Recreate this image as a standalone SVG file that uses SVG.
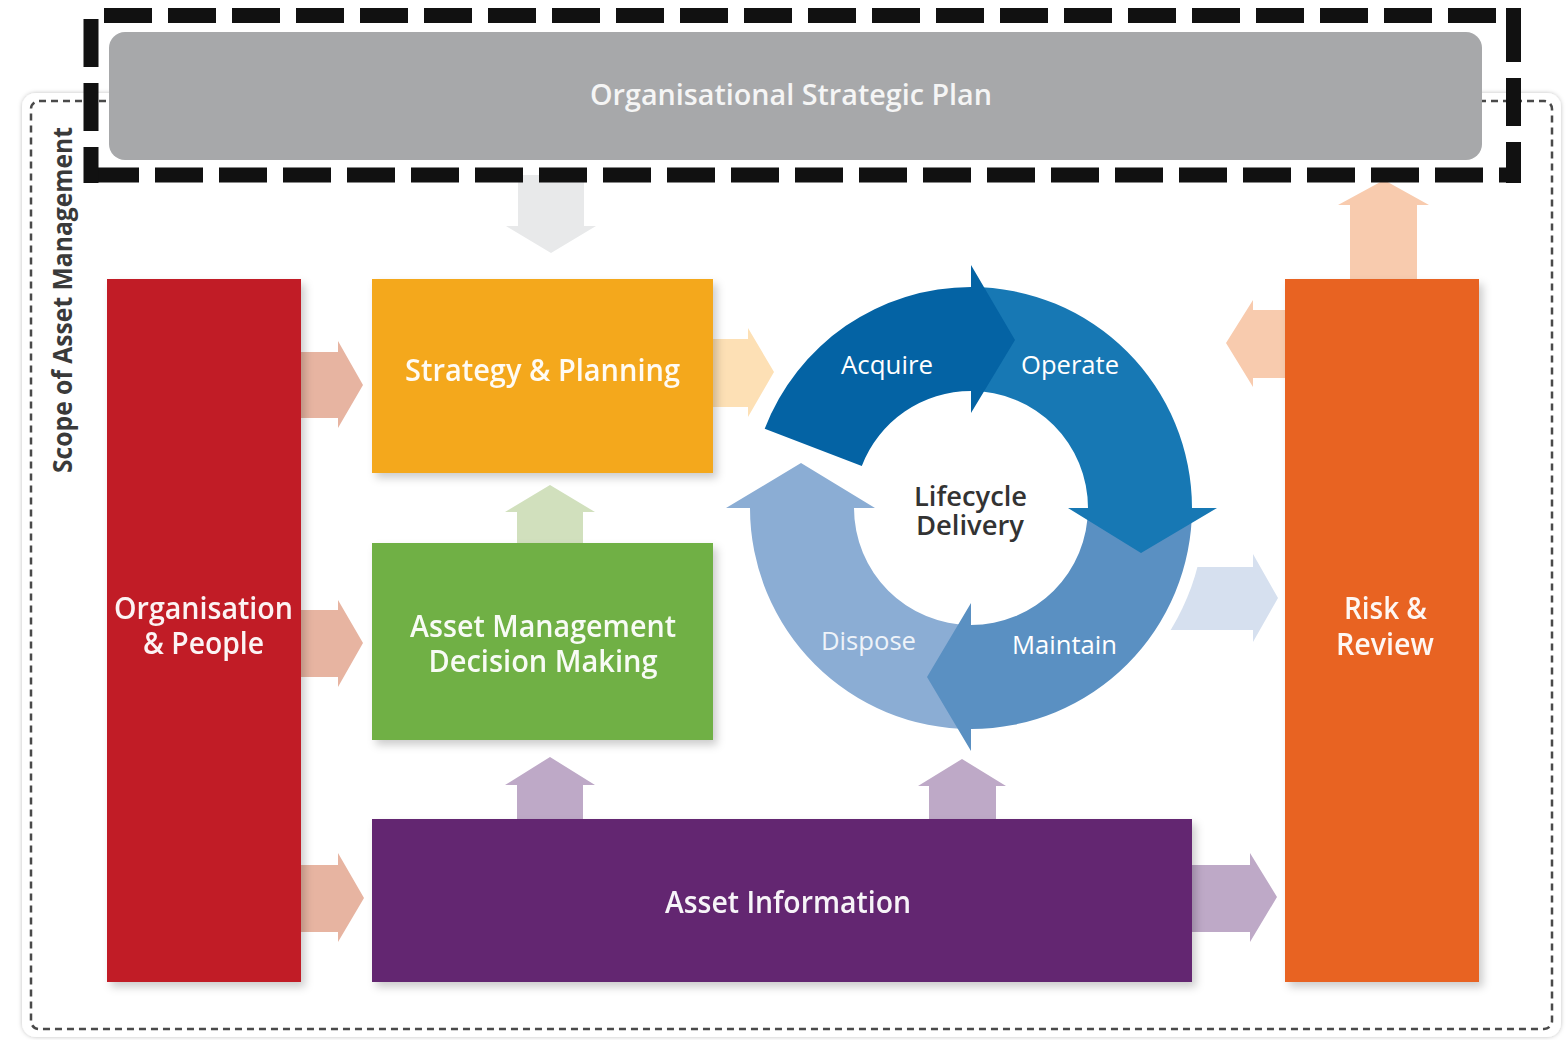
<svg xmlns="http://www.w3.org/2000/svg" width="1566" height="1040" viewBox="0 0 1566 1040">
<defs>
<filter id="sh" x="-10%" y="-10%" width="130%" height="130%">
<feDropShadow dx="4" dy="5" stdDeviation="4" flood-color="#000" flood-opacity="0.2"/>
</filter>
<filter id="fsh" x="-5%" y="-5%" width="110%" height="110%">
<feDropShadow dx="0" dy="0" stdDeviation="2" flood-color="#000" flood-opacity="0.25"/>
</filter>
<style>
text{font-family:"Open Sans","Noto Sans","Liberation Sans",sans-serif;text-anchor:middle}
.lbl{font-size:30px;font-weight:600;fill:#fff;fill-opacity:0.95}
.cyc{font-size:26px;font-weight:400;fill:#fff}
.mid{font-size:27px;font-weight:600;fill:#333}
.blk{stroke:#111;stroke-width:15;fill:none;stroke-dasharray:48 16}
.box{filter:url(#sh)}
</style>
</defs>
<rect width="1566" height="1040" fill="#fff"/>

<g id="scope">
<rect x="22" y="93" width="1539" height="944" rx="14" fill="#fff" filter="url(#fsh)"/>
<rect x="31" y="101" width="1521" height="928" rx="8" fill="none" stroke="#4a4a4a" stroke-width="2.5" stroke-dasharray="7 5"/>
<text transform="translate(72,300) rotate(-90)" style="font-size:26px;font-weight:700;fill:#3a3a3a" textLength="346" lengthAdjust="spacingAndGlyphs">Scope of Asset Management</text>
</g>

<g id="connectors">
<polygon fill="#e8e9ea" points="518,175 584,175 584,226 596,226 551,253 506,226 518,226"/>
<polygon fill="#e7b4a1" points="301,352 338,352 338,341 363,385 338,428 338,418 301,418"/>
<polygon fill="#e7b4a1" points="301,610 338,610 338,600 363,643 338,687 338,677 301,677"/>
<polygon fill="#e7b4a1" points="301,865 338,865 338,853 364,898 338,942 338,932 301,932"/>
<polygon fill="#fde0b5" points="713,339 748,339 748,328 774,372 748,417 748,407 713,407"/>
<polygon fill="#d1e0bd" points="517,543 517,512 505,512 550,485 595,512 583,512 583,543"/>
<polygon fill="#bea9c7" points="517,819 517,785 505,785 550,757 595,785 583,785 583,819"/>
<polygon fill="#bea9c7" points="929,819 929,786 918,786 962,759 1006,786 996,786 996,819"/>
<polygon fill="#d6e0ef" points="1150,567 1253,567 1253,554 1278,598 1253,642 1253,630 1150,630"/>
<polygon fill="#bea9c7" points="1192,865 1250,865 1250,853 1277,897 1250,942 1250,932 1192,932"/>
<polygon fill="#f8cbae" points="1350,279 1350,205 1338,205 1384,180 1429,205 1417,205 1417,279"/>
<polygon fill="#f8cbae" points="1285,310 1253,310 1253,300 1226,343 1253,387 1253,378 1285,378"/>
</g>

<g id="plan">
<rect x="109" y="32" width="1373" height="128" rx="16" fill="#a7a8aa"/>
<line class="blk" x1="104" y1="15.5" x2="1496" y2="15.5"/>
<line class="blk" x1="91" y1="175" x2="1521" y2="175"/>
<line class="blk" x1="91" y1="19" x2="91" y2="183"/>
<line class="blk" x1="1513.5" y1="8" x2="1513.5" y2="183" style="stroke-dasharray:54 16 48 16 48 16"/>
<text x="791" y="105" style="font-size:28px;font-weight:600;fill:#f5f5f5" textLength="402" lengthAdjust="spacingAndGlyphs">Organisational Strategic Plan</text>
</g>

<g id="org-people" class="box">
<rect x="107" y="279" width="194" height="703" fill="#c11f27"/>
<text class="lbl"><tspan x="203.5" y="619" textLength="179" lengthAdjust="spacingAndGlyphs">Organisation</tspan><tspan x="203.5" y="654" textLength="121" lengthAdjust="spacingAndGlyphs">&amp; People</tspan></text>
</g>

<g id="strategy" class="box">
<rect x="372" y="279" width="341" height="194" fill="#f4a81f"/>
<text class="lbl" x="542.5" y="381" textLength="275" lengthAdjust="spacingAndGlyphs">Strategy &amp; Planning</text>
</g>

<g id="decision" class="box">
<rect x="372" y="543" width="341" height="197" fill="#70b044"/>
<text class="lbl"><tspan x="543" y="637" textLength="266" lengthAdjust="spacingAndGlyphs">Asset Management</tspan><tspan x="543" y="672" textLength="229" lengthAdjust="spacingAndGlyphs">Decision Making</tspan></text>
</g>

<g id="asset-info" class="box">
<rect x="372" y="819" width="820" height="163" fill="#632871"/>
<text class="lbl" x="788" y="913" textLength="246" lengthAdjust="spacingAndGlyphs">Asset Information</text>
</g>

<g id="risk" class="box">
<rect x="1285" y="279" width="194" height="703" fill="#e86424"/>
<text class="lbl"><tspan x="1385.5" y="619" textLength="83" lengthAdjust="spacingAndGlyphs">Risk &amp;</tspan><tspan x="1385" y="655" textLength="98" lengthAdjust="spacingAndGlyphs">Review</tspan></text>
</g>

<g id="lifecycle">
<circle cx="971" cy="508" r="234" fill="#fff"/>
<g id="dispose">
<path fill="#8badd4" d="M 971 729 A 221 221 0 0 1 750 508 L 726 508 L 801 463 L 875 508 L 854 508 A 117 117 0 0 0 971 625 Z"/>
<text class="cyc" x="868.5" y="650" textLength="95" lengthAdjust="spacingAndGlyphs" style="fill:#eef3f9">Dispose</text>
</g>
<g id="maintain">
<path fill="#5a90c2" d="M 1192 508 A 221 221 0 0 1 971 729 L 971 751 L 927 677 L 971 603 L 971 625 A 117 117 0 0 0 1088 508 Z"/>
<text class="cyc" x="1064.5" y="654" textLength="105" lengthAdjust="spacingAndGlyphs">Maintain</text>
</g>
<g id="operate">
<path fill="#1778b4" d="M 971 287 A 221 221 0 0 1 1192 508 L 1217 508 L 1141 553 L 1068 508 L 1088 508 A 117 117 0 0 0 971 391 Z"/>
<text class="cyc" x="1070" y="374" textLength="98" lengthAdjust="spacingAndGlyphs">Operate</text>
</g>
<g id="acquire">
<path fill="#0463a4" d="M 764.7 428.8 A 221 221 0 0 1 971 287 L 971 265 L 1015 340 L 971 413 L 971 391 A 117 117 0 0 0 861.8 466.1 Z"/>
<text class="cyc" x="887" y="374" textLength="92" lengthAdjust="spacingAndGlyphs">Acquire</text>
</g>
<text class="mid"><tspan x="970.5" y="506" textLength="113" lengthAdjust="spacingAndGlyphs">Lifecycle</tspan><tspan x="970" y="535" textLength="108" lengthAdjust="spacingAndGlyphs">Delivery</tspan></text>
</g>
</svg>
